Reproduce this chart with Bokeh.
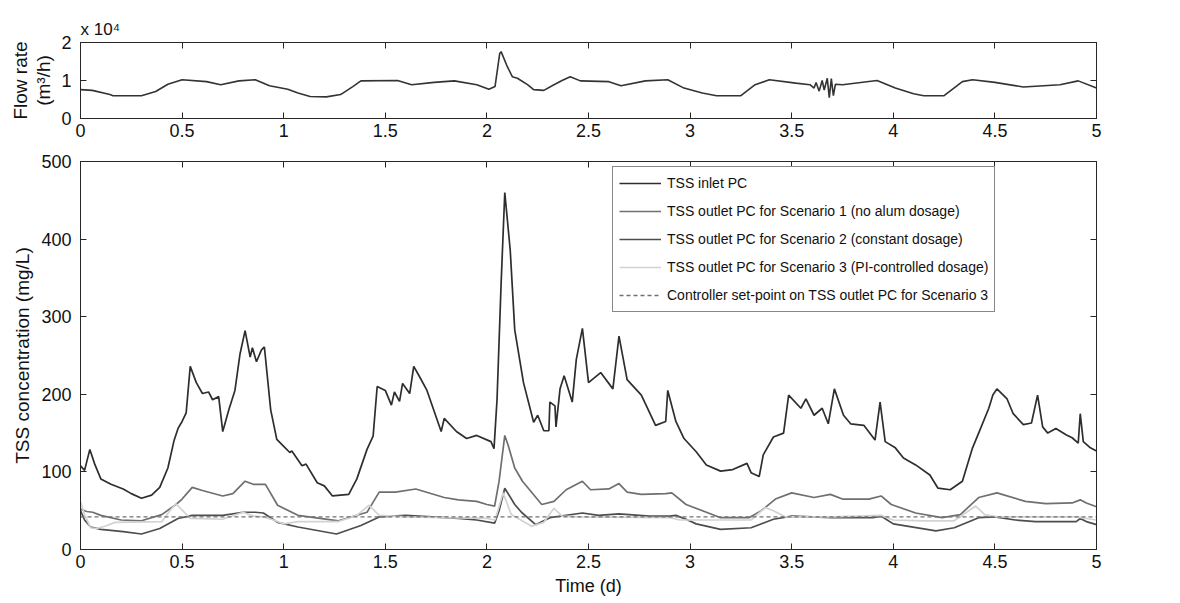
from bokeh.plotting import figure
from bokeh.layouts import column
from bokeh.models import Range1d, LinearAxis, Title, Legend, LegendItem, FixedTicker
from bokeh.embed import file_html
from bokeh.resources import INLINE

# ---------------- data ----------------
flow_t = [0, 0.058, 0.145, 0.16, 0.3, 0.37, 0.43, 0.5, 0.62, 0.69, 0.78, 0.86, 0.93, 1.02, 1.07,
          1.13, 1.21, 1.28, 1.34, 1.38, 1.56, 1.63, 1.74, 1.84, 1.95, 2.01, 2.04, 2.063, 2.07,
          2.1, 2.125, 2.15, 2.2, 2.23, 2.28, 2.33, 2.37, 2.41, 2.46, 2.6, 2.66, 2.78, 2.89, 2.97,
          3.06, 3.13, 3.25, 3.32, 3.39, 3.52, 3.59, 3.61, 3.62, 3.635, 3.65, 3.66, 3.675, 3.685,
          3.695, 3.705, 3.715, 3.75, 3.92, 4.01, 4.1, 4.15, 4.25, 4.34, 4.39, 4.5, 4.64, 4.82,
          4.91, 5.0]
flow = [0.76, 0.74, 0.63, 0.6, 0.6, 0.71, 0.9, 1.02, 0.97, 0.89, 0.99, 1.02, 0.86, 0.77, 0.67,
        0.58, 0.57, 0.63, 0.84, 0.99, 1.0, 0.89, 0.95, 0.99, 0.89, 0.77, 0.84, 1.71, 1.76,
        1.37, 1.1, 1.06, 0.89, 0.76, 0.74, 0.89, 1.0, 1.1, 0.99, 0.97, 0.86, 0.99, 1.02, 0.8,
        0.67, 0.6, 0.6, 0.89, 1.02, 0.93, 0.89, 0.8, 0.95, 0.72, 1.0, 0.75, 1.06, 0.55,
        1.05, 0.6, 0.9, 0.89, 1.0, 0.8, 0.65, 0.6, 0.6, 0.97, 1.02, 0.95, 0.83, 0.89,
        0.99, 0.8]

inlet_t = [0, 0.02, 0.046, 0.07, 0.1, 0.15, 0.21, 0.25, 0.3, 0.35, 0.39, 0.43, 0.46, 0.48, 0.5,
           0.52, 0.54, 0.57, 0.6, 0.63, 0.65, 0.68, 0.7, 0.73, 0.76, 0.785, 0.81, 0.835, 0.846,
           0.866, 0.89, 0.905, 0.936, 0.966, 1.0, 1.03, 1.04, 1.09, 1.11, 1.165, 1.2, 1.24, 1.32,
           1.36, 1.41, 1.44, 1.46, 1.5, 1.53, 1.545, 1.57, 1.585, 1.62, 1.64, 1.67, 1.705, 1.775,
           1.79, 1.85, 1.9, 1.95, 2.02, 2.035, 2.05, 2.07, 2.088, 2.115, 2.137, 2.18, 2.23, 2.25,
           2.28, 2.305, 2.31, 2.335, 2.34, 2.36, 2.38, 2.42, 2.44, 2.47, 2.5, 2.56, 2.62, 2.65,
           2.69, 2.76, 2.785, 2.83, 2.88, 2.89, 2.93, 2.97, 3.03, 3.08, 3.15, 3.21, 3.28, 3.3,
           3.34, 3.36, 3.41, 3.46, 3.485, 3.545, 3.57, 3.61, 3.65, 3.68, 3.71, 3.755, 3.79, 3.855,
           3.91, 3.935, 3.96, 4.01, 4.05, 4.11, 4.18, 4.22, 4.28, 4.34, 4.39, 4.42, 4.47, 4.49,
           4.51, 4.56, 4.59, 4.64, 4.68, 4.71, 4.735, 4.76, 4.8, 4.85, 4.88, 4.91, 4.92, 4.935,
           4.97, 5.0]
inlet = [108, 102, 129, 110, 91, 84, 78, 72, 66, 70, 80, 105, 140, 156, 165,
         176, 236, 215, 201, 203, 193, 197, 152, 180, 205, 252, 282, 248, 260,
         242, 257, 261, 180, 142, 133, 125, 127, 108, 110, 86, 82, 69, 71,
         91, 129, 146, 210, 205, 186, 203, 191, 214, 201, 236, 222, 205, 152,
         169, 152, 143, 147, 139, 130, 194, 343, 460, 385, 283, 215, 164, 173,
         153, 153, 190, 185, 158, 207, 224, 190, 245, 285, 215, 228, 207, 275,
         219, 199, 185, 160, 165, 205, 165, 143, 126, 109, 101, 103, 111, 99,
         94, 122, 145, 150, 199, 182, 194, 173, 182, 162, 207, 173, 162, 160,
         141, 190, 139, 131, 118, 109, 96, 79, 77, 88, 131, 150, 182, 199,
         207, 194, 175, 161, 163, 199, 158, 150, 156, 148, 144, 137, 175, 139,
         131, 127]

s1_t = [0, 0.03, 0.06, 0.1, 0.2, 0.3, 0.4, 0.47, 0.5, 0.55, 0.6, 0.7, 0.75, 0.81, 0.85, 0.91,
        0.97, 1.07, 1.27, 1.41, 1.47, 1.55, 1.65, 1.79, 1.86, 1.95, 2.0, 2.038, 2.06, 2.088,
        2.105, 2.137, 2.175, 2.27, 2.33, 2.39, 2.47, 2.51, 2.6, 2.65, 2.69, 2.76, 2.88, 2.91,
        2.98, 3.09, 3.15, 3.29, 3.35, 3.42, 3.5, 3.61, 3.69, 3.75, 3.88, 3.94, 3.99, 4.11, 4.24,
        4.33, 4.42, 4.51, 4.65, 4.75, 4.88, 4.92, 4.95, 5.0]
s1 = [52, 49, 48, 44, 38, 37, 45, 58, 65, 80, 76, 69, 72, 88, 84, 84,
      57, 44, 37, 48, 74, 74, 78, 67, 64, 62, 58, 56, 88, 147,
      134, 105, 88, 58, 62, 77, 88, 77, 78, 85, 74, 71, 72, 73,
      58, 47, 41, 41, 50, 65, 73, 67, 71, 65, 65, 69, 58, 47, 41,
      45, 67, 73, 62, 59, 60, 64, 60, 55]

s2_t = [0, 0.02, 0.05, 0.1, 0.21, 0.3, 0.39, 0.48, 0.55, 0.7, 0.8, 0.86, 0.9, 0.97, 1.07, 1.26,
        1.38, 1.47, 1.6, 1.86, 1.95, 2.038, 2.06, 2.088, 2.137, 2.17, 2.24, 2.31, 2.47, 2.55,
        2.65, 2.8, 2.9, 2.93, 2.98, 3.03, 3.15, 3.3, 3.41, 3.5, 3.7, 3.9, 3.94, 3.97, 4.0, 4.21,
        4.3, 4.42, 4.5, 4.6, 4.7, 4.9, 4.92, 4.95, 5.0]
s2 = [50, 38, 29, 26, 23, 20, 27, 40, 44, 44, 48, 48, 47, 35, 29, 20,
      31, 42, 44, 40, 38, 34, 50, 79, 58, 48, 32, 41, 47, 44,
      46, 43, 43, 44, 39, 33, 26, 28, 39, 43, 41, 41, 43, 38, 33, 24,
      28, 41, 42, 38, 36, 36, 40, 36, 32]

s3_t = [0, 0.02, 0.05, 0.08, 0.12, 0.17, 0.4, 0.44, 0.47, 0.54, 0.7, 0.8, 0.85, 0.9, 0.95, 1.0,
        1.07, 1.27, 1.36, 1.42, 1.47, 1.6, 1.8, 2.0, 2.04, 2.08, 2.12, 2.22, 2.28, 2.33, 2.37,
        2.45, 2.9, 2.95, 3.05, 3.3, 3.37, 3.41, 3.47, 3.7, 3.94, 4.0, 4.15, 4.3, 4.405, 4.45,
        4.51, 4.9, 5.0]
s3 = [62, 45, 28, 27, 30, 35, 36, 50, 59, 40, 39, 48, 43, 42, 38, 33,
      36, 36, 44, 57, 44, 42, 41, 40, 38, 73, 45, 30, 35, 53, 43,
      42, 41, 38, 38, 38, 54, 50, 42, 42, 44, 38, 37, 37, 56, 45,
      42, 42, 38]

setpoint_t = [0, 5]
setpoint = [42, 42]

FONT = "Liberation Sans"
AX = "#262626"
TXT = "#111111"


def style(p):
    p.background_fill_color = "white"
    p.border_fill_color = "white"
    p.outline_line_color = AX
    p.grid.visible = False
    for ax in p.axis:
        ax.major_tick_in = 6
        ax.major_tick_out = 0
        ax.minor_tick_line_color = None
        ax.axis_line_color = AX
        ax.major_tick_line_color = AX
        ax.major_label_text_font = FONT
        ax.major_label_text_font_size = "18px"
        ax.major_label_text_color = TXT
        ax.axis_label_text_font = FONT
        ax.axis_label_text_font_size = "18px"
        ax.axis_label_text_font_style = "normal"
        ax.axis_label_text_color = TXT


def mirror(p, xticks, yticks):
    for side, ticks in (("above", xticks), ("right", yticks)):
        ax = LinearAxis(ticker=FixedTicker(ticks=ticks), major_label_text_font_size="0px",
                        major_label_text_alpha=0, major_label_standoff=0,
                        major_tick_in=6, major_tick_out=0, minor_tick_line_color=None,
                        axis_line_color=AX, major_tick_line_color=AX)
        p.add_layout(ax, side)


xr = Range1d(0, 5)
xticks = [0, 0.5, 1, 1.5, 2, 2.5, 3, 3.5, 4, 4.5, 5]

# ---------------- top: flow rate ----------------
p1 = figure(frame_width=1016, frame_height=76, x_range=xr, y_range=Range1d(0, 2),
            output_backend="svg", toolbar_location=None,
            min_border_left=80, min_border_right=14, min_border_top=42, min_border_bottom=26)
p1.line(flow_t, flow, line_color="#333333", line_width=1.6)
p1.xaxis.ticker = FixedTicker(ticks=xticks)
p1.yaxis.ticker = FixedTicker(ticks=[0, 1, 2])
p1.yaxis.axis_label = "(m³/h)"
style(p1)
mirror(p1, xticks, [0, 1, 2])
p1.yaxis[0].axis_label_text_font_size = "19px"
p1.yaxis[0].axis_label_standoff = 4
p1.yaxis[0].major_label_standoff = 9
p1.add_layout(Title(text="Flow rate", align="center", text_font=FONT, text_font_size="19px",
                    text_font_style="normal", text_color=TXT, standoff=0), "left")
p1.add_layout(Title(text="x 10⁴", align="left", text_font=FONT, text_font_size="17px",
                    text_font_style="normal", text_color=TXT, standoff=8), "above")
p1.xaxis[0].major_label_standoff = 4

# ---------------- bottom: TSS ----------------
p2 = figure(frame_width=1016, frame_height=388, x_range=xr, y_range=Range1d(0, 500),
            output_backend="svg", toolbar_location=None,
            min_border_left=80, min_border_right=14, min_border_top=17, min_border_bottom=46)
r_in = p2.line(inlet_t, inlet, line_color="#2e2e2e", line_width=1.7)
r_s1 = p2.line(s1_t, s1, line_color="#6f6f6f", line_width=1.7)
r_s2 = p2.line(s2_t, s2, line_color="#4d4d4d", line_width=1.7)
r_s3 = p2.line(s3_t, s3, line_color="#d2d2d2", line_width=1.7)
r_sp = p2.line(setpoint_t, setpoint, line_color="#707070", line_width=1.3, line_dash="4 3")
p2.xaxis.ticker = FixedTicker(ticks=xticks)
p2.yaxis.ticker = FixedTicker(ticks=[0, 100, 200, 300, 400, 500])
p2.xaxis.axis_label = "Time (d)"
p2.yaxis.axis_label = "TSS concentration (mg/L)"
style(p2)
mirror(p2, xticks, [0, 100, 200, 300, 400, 500])
p2.yaxis[0].axis_label_text_font_size = "19px"
p2.yaxis[0].major_label_standoff = 9
p2.xaxis[0].major_label_standoff = 4
p2.xaxis[0].axis_label_standoff = 2

legend = Legend(items=[
    LegendItem(label="TSS inlet PC", renderers=[r_in]),
    LegendItem(label="TSS outlet PC for Scenario 1 (no alum dosage)", renderers=[r_s1]),
    LegendItem(label="TSS outlet PC for Scenario 2 (constant dosage)", renderers=[r_s2]),
    LegendItem(label="TSS outlet PC for Scenario 3 (PI-controlled dosage)", renderers=[r_s3]),
    LegendItem(label="Controller set-point on TSS outlet PC for Scenario 3", renderers=[r_sp]),
], location=(532, 237))
legend.label_text_font = FONT
legend.label_text_font_size = "14px"
legend.label_text_color = TXT
legend.glyph_width = 42
legend.glyph_height = 20
legend.label_height = 20
legend.spacing = 8
legend.padding = 6
legend.margin = 0
legend.label_standoff = 6
legend.border_line_color = TXT
legend.border_line_width = 1
legend.background_fill_alpha = 1
p2.add_layout(legend, "center")

layout = column(p1, p2, spacing=0)
open("out.html", "w").write(file_html(layout, INLINE))
